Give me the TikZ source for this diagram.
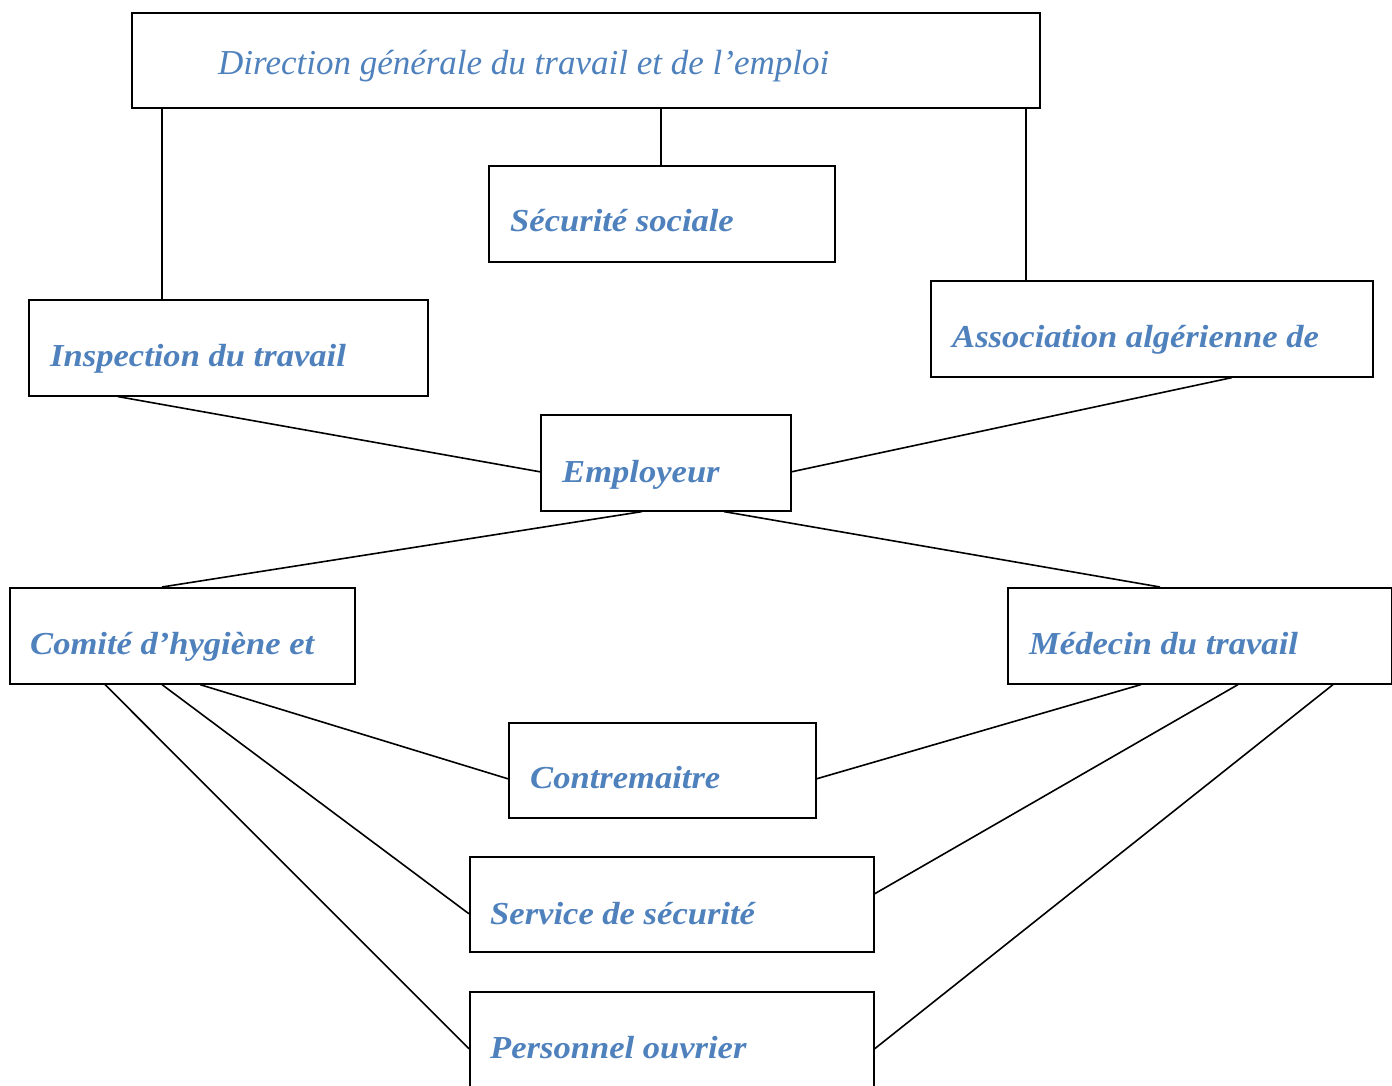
\documentclass[tikz,border=0pt]{standalone}
\usepackage{fontspec}
\setmainfont{Liberation Serif}
\newfontfamily\lblfont{Liberation Serif}[FakeStretch=1.08]
\usetikzlibrary{calc}
\definecolor{txtblue}{HTML}{4F81BD}
\begin{document}
\begin{tikzpicture}[x=1pt,y=-1pt,
 box/.style={draw, line width=1.6pt, anchor=north west, inner sep=0pt},
 lbl/.style={anchor=base west, inner sep=0pt, text=txtblue, font=\lblfont\fontsize{32}{36}\selectfont\bfseries\itshape},
 ttl/.style={anchor=base west, inner sep=0pt, text=txtblue, font=\fontsize{35}{40}\selectfont\itshape},
 link/.style={line width=1.6pt}]
\useasboundingbox (0,0) rectangle (1392,1086);
\fill[white] (0,0) rectangle (1392,1086);

\node[box, minimum width=908pt, minimum height=95pt] (dg) at (131,12) {};
\node[ttl] (dg-t) at ($(dg.north west)+(87,63)$) {Direction générale du travail et de l’emploi};

\node[box, minimum width=346pt, minimum height=96pt] (sec) at (488,165) {};
\node[lbl] (sec-t) at ($(sec.north west)+(22,67)$) {Sécurité sociale};

\node[box, minimum width=399pt, minimum height=96pt] (insp) at (28,299) {};
\node[lbl] (insp-t) at ($(insp.north west)+(22,67)$) {Inspection du travail};

\node[box, minimum width=442pt, minimum height=96pt] (assoc) at (930,280) {};
\node[lbl] (assoc-t) at ($(assoc.north west)+(22,67)$) {Association algérienne de};

\node[box, minimum width=250pt, minimum height=96pt] (emp) at (540,414) {};
\node[lbl] (emp-t) at ($(emp.north west)+(22,68)$) {Employeur};

\node[box, minimum width=345pt, minimum height=96pt] (chs) at (9,587) {};
\node[lbl] (chs-t) at ($(chs.north west)+(21,67)$) {Comité d’hygiène et};

\node[box, minimum width=384pt, minimum height=96pt] (med) at (1007,587) {};
\node[lbl] (med-t) at ($(med.north west)+(22,67)$) {Médecin du travail};

\node[box, minimum width=307pt, minimum height=95pt] (contre) at (508,722) {};
\node[lbl] (contre-t) at ($(contre.north west)+(22,66)$) {Contremaitre};

\node[box, minimum width=404pt, minimum height=95pt] (serv) at (469,856) {};
\node[lbl] (serv-t) at ($(serv.north west)+(21,68)$) {Service de sécurité};

\node[box, minimum width=404pt, minimum height=96pt] (pers) at (469,991) {};
\node[lbl] (pers-t) at ($(pers.north west)+(21,67)$) {Personnel ouvrier};

\draw[link] ($(dg.south west)+(31,0)$) -- ($(insp.north west)+(134,0)$);
\draw[link] ($(dg.south west)+(530,0)$) -- ($(sec.north west)+(173,0)$);
\draw[link] ($(dg.south west)+(895,0)$) -- ($(assoc.north west)+(96,0)$);
\draw[link] ($(insp.south west)+(90,0)$) -- ($(emp.west)+(0,9)$);
\draw[link] ($(assoc.south west)+(302,0)$) -- ($(emp.east)+(0,9)$);
\draw[link] ($(emp.south west)+(102,0)$) -- ($(chs.north west)+(153,0)$);
\draw[link] ($(emp.south west)+(184,0)$) -- ($(med.north west)+(153,0)$);
\draw[link] ($(chs.south west)+(191,0)$) -- ($(contre.west)+(0,8.5)$);
\draw[link] ($(chs.south west)+(153,0)$) -- ($(serv.west)+(0,9.5)$);
\draw[link] ($(chs.south west)+(96,0)$) -- ($(pers.west)+(0,9)$);
\draw[link] ($(med.south west)+(134,0)$) -- ($(contre.east)+(0,8.5)$);
\draw[link] ($(med.south west)+(231,0)$) -- ($(serv.east)+(0,-10.5)$);
\draw[link] ($(med.south west)+(326,0)$) -- ($(pers.east)+(0,9)$);
\end{tikzpicture}
\end{document}
